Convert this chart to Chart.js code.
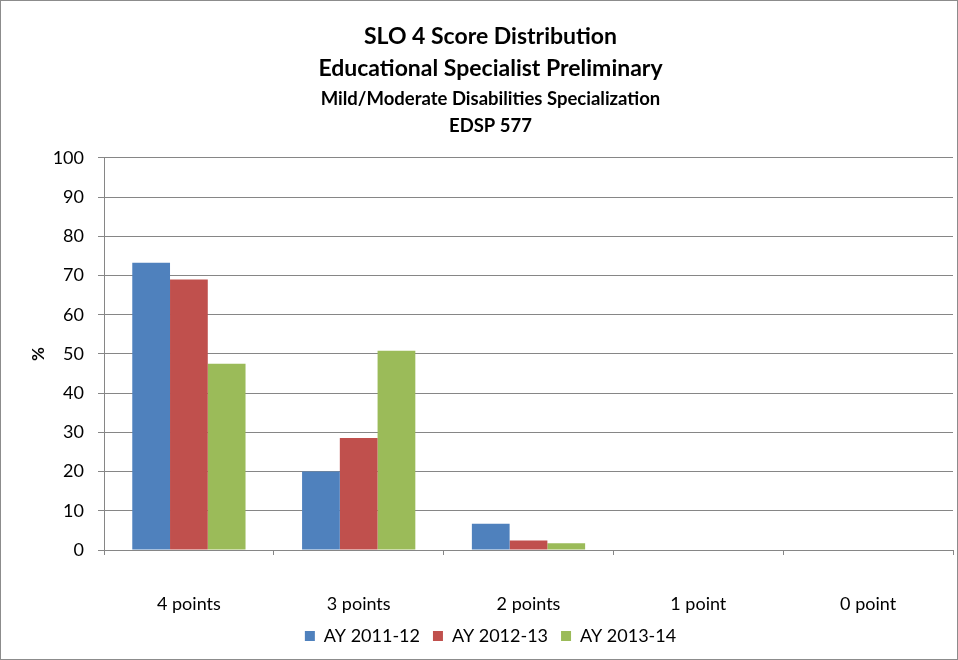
<!DOCTYPE html>
<html>
<head>
<meta charset="utf-8">
<script src="https://cdn.jsdelivr.net/npm/chart.js@4"></script>
<style>
    html, body { margin: 0; padding: 0; background: #fff; }
    #wrap { width: 958px; height: 660px; box-sizing: border-box; border: 1px solid #8c8c8c; }
</style>
</head>
<body>
<div id="wrap"><canvas id="canvas" width="956" height="658"></canvas></div>
<script>
    var categories = ['4 points', '3 points', '2 points', '1 point', '0 point'];
    var ay1112 = [73.3, 20.0, 6.7, 0, 0];
    var ay1213 = [69.0, 28.6, 2.4, 0, 0];
    var ay1314 = [47.5, 50.8, 1.7, 0, 0];
    var yTicks = [0, 10, 20, 30, 40, 50, 60, 70, 80, 90, 100];

    var font = 'Lato, Carlito, Calibri, sans-serif';

    var data = {
        labels: categories,
        datasets: [
            { label: 'AY 2011-12', backgroundColor: '#4F81BD', data: ay1112 },
            { label: 'AY 2012-13', backgroundColor: '#C0504D', data: ay1213 },
            { label: 'AY 2013-14', backgroundColor: '#9BBB59', data: ay1314 }
        ]
    };

    var ctx = document.getElementById('canvas').getContext('2d');

    var myBarChart = new Chart(ctx, {
        type: 'bar',
        data: data,
        options: {
            responsive: false,
            animation: false,
            layout: { padding: { left: 27, right: 4, top: 0, bottom: 4 } },
            datasets: { bar: { categoryPercentage: 0.667, barPercentage: 1.0 } },
            plugins: {
                title: {
                    display: true,
                    text: ['SLO 4 Score Distribution', 'Educational Specialist Preliminary'],
                    color: '#000',
                    font: { family: font, size: 23, weight: 'bold', lineHeight: 1.39 },
                    padding: { top: 20, bottom: 1 }
                },
                subtitle: {
                    display: true,
                    text: ['Mild/Moderate Disabilities Specialization', 'EDSP 577'],
                    color: '#000',
                    font: { family: font, size: 18.5, weight: 'bold', lineHeight: 1.46 },
                    padding: { top: 0, bottom: 18 }
                },
                legend: {
                    position: 'bottom',
                    labels: {
                        color: '#000',
                        boxWidth: 10,
                        boxHeight: 10,
                        padding: 13,
                        font: { family: font, size: 18 }
                    }
                },
                tooltip: { enabled: false }
            },
            scales: {
                x: {
                    afterFit: function (scale) { scale.height = 64; },
                    grid: { drawOnChartArea: false, color: '#868686', tickLength: 5 },
                    border: { color: '#868686' },
                    ticks: { color: '#000', padding: 40, font: { family: font, size: 18, lineHeight: 1.0 } }
                },
                y: {
                    min: 0,
                    max: 100,
                    afterBuildTicks: function (axis) {
                        axis.ticks = yTicks.map(function (v) { return { value: v }; });
                    },
                    afterFit: function (scale) { scale.width = 76; },
                    grid: { color: '#868686', tickLength: 6 },
                    border: { color: '#868686' },
                    ticks: { color: '#000', padding: 14, font: { family: font, size: 18 } },
                    title: {
                        display: true,
                        text: '%',
                        color: '#000',
                        font: { family: font, size: 17, weight: 'bold', lineHeight: 1.2 },
                        padding: { top: 0, bottom: 0 }
                    }
                }
            }
        }
    });
</script>
</body>
</html>
